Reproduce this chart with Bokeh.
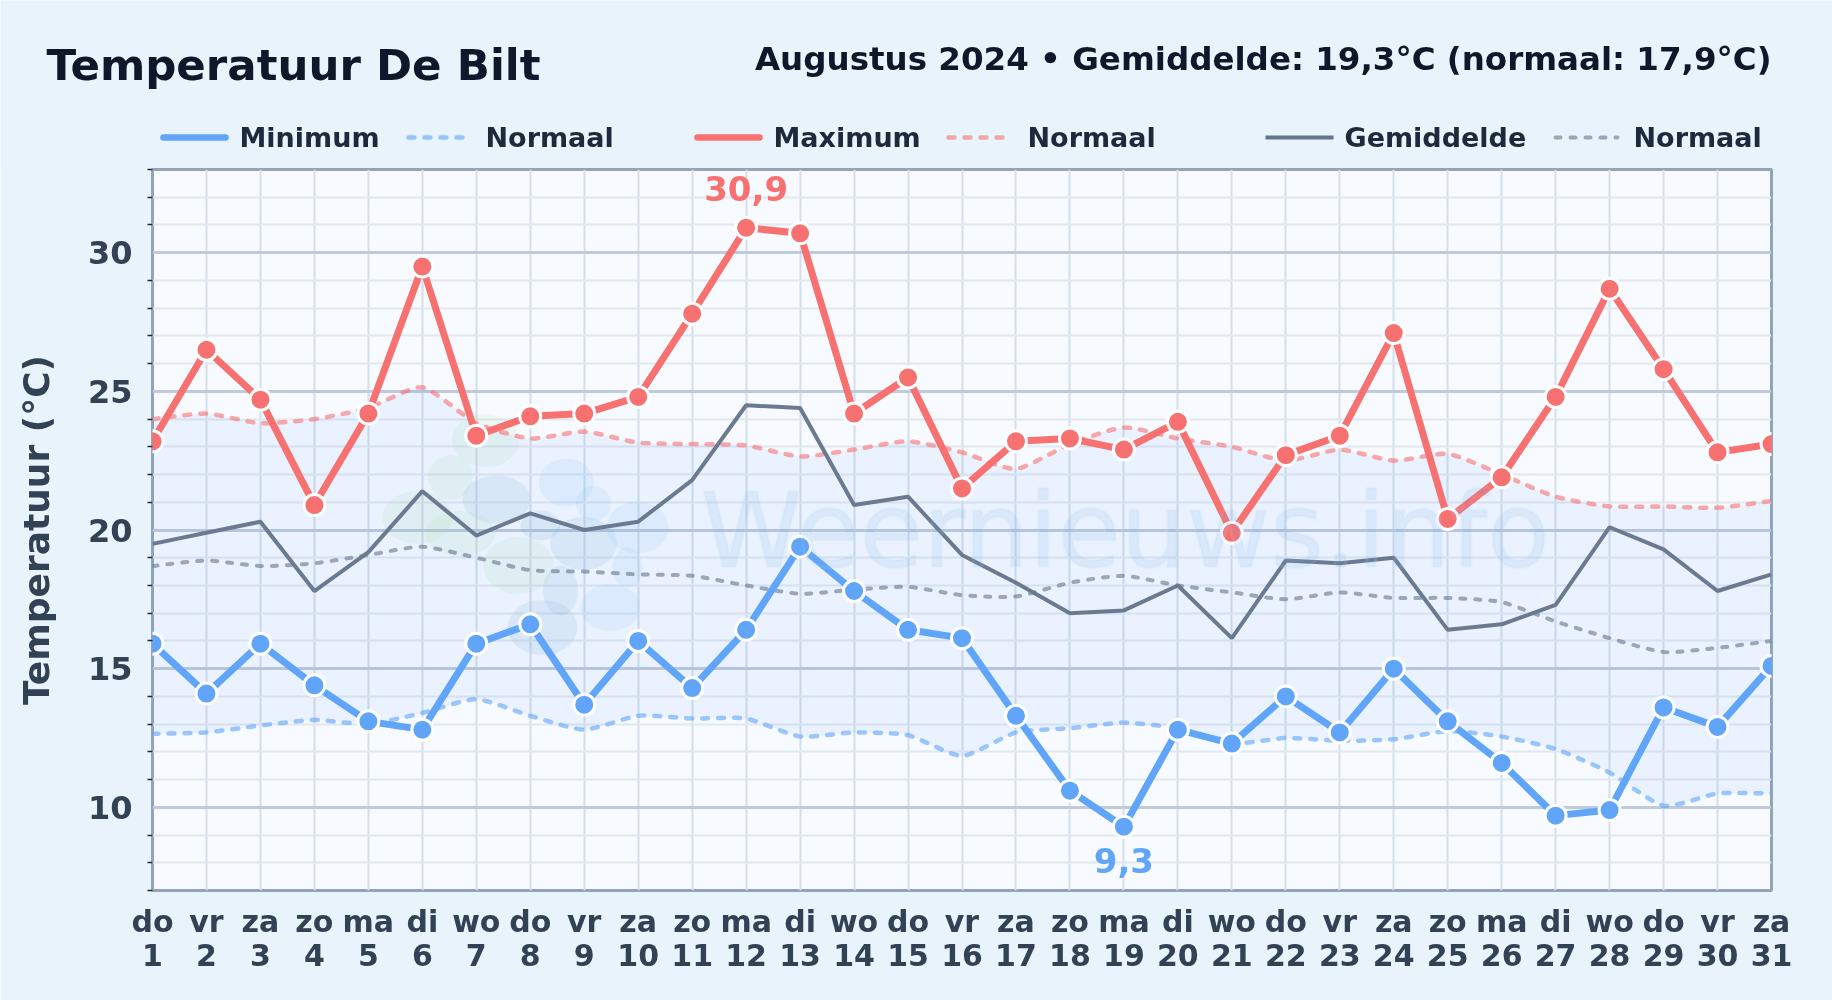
from bokeh.plotting import figure
from bokeh.models import Range1d, FixedTicker, LinearAxis, Label
from bokeh.core.properties import value
from bokeh.embed import file_html
from bokeh.resources import INLINE

days = list(range(1, 32))
weekdays = ["do","vr","za","zo","ma","di","wo","do","vr","za","zo","ma","di","wo","do","vr","za","zo","ma","di","wo","do","vr","za","zo","ma","di","wo","do","vr","za"]
t_max = [23.2,26.5,24.7,20.9,24.2,29.5,23.4,24.1,24.2,24.8,27.8,30.9,30.7,24.2,25.5,21.5,23.2,23.3,22.9,23.9,19.9,22.7,23.4,27.1,20.4,21.9,24.8,28.7,25.8,22.8,23.1]
t_min = [15.9,14.1,15.9,14.4,13.1,12.8,15.9,16.6,13.7,16.0,14.3,16.4,19.4,17.8,16.4,16.1,13.3,10.6,9.3,12.8,12.3,14.0,12.7,15.0,13.1,11.6,9.7,9.9,13.6,12.9,15.1]
t_mean = [19.5,19.9,20.3,17.8,19.2,21.4,19.8,20.6,20.0,20.3,21.8,24.5,24.4,20.9,21.2,19.1,18.1,17.0,17.1,18.0,16.1,18.9,18.8,19.0,16.4,16.6,17.3,20.1,19.3,17.8,18.4]
n_max = [24.0,24.2,23.85,24.0,24.4,25.15,23.85,23.3,23.55,23.15,23.1,23.05,22.65,22.9,23.2,22.8,22.2,23.1,23.7,23.3,23.0,22.5,22.9,22.5,22.75,22.0,21.2,20.85,20.85,20.8,21.05]
n_min = [12.65,12.7,12.95,13.15,13.0,13.4,13.9,13.3,12.8,13.3,13.2,13.2,12.55,12.7,12.6,11.85,12.7,12.85,13.05,12.85,12.3,12.5,12.4,12.45,12.75,12.55,12.1,11.25,10.05,10.5,10.5]
n_mean = [18.7,18.9,18.7,18.8,19.1,19.4,19.0,18.55,18.5,18.4,18.35,18.0,17.7,17.85,17.95,17.65,17.6,18.1,18.35,18.0,17.75,17.5,17.75,17.55,17.55,17.4,16.7,16.1,15.6,15.75,16.0]
y_ticks = [10, 15, 20, 25, 30]
y_minor = [7,8,9,11,12,13,14,16,17,18,19,21,22,23,24,26,27,28,29,31,32,33]

L, R, T, B = 152, 1771, 169, 890
HEAD = 163
def dx(px): return 1 + (px - L) / (R - L) * 30
def dy(py): return 33 - (py - T) / (B - T) * 26
def dw(px): return px / (R - L) * 30
def dh(px): return px / (B - T) * 26

def smooth(xs, ys, tension=0.1, steps=8):
    """Rendering only: curve through the series' own points, as the reference's line tension does."""
    ox, oy = [], []
    n = len(xs)
    for i in range(n - 1):
        p0 = max(i - 1, 0); p3 = min(i + 2, n - 1)
        c1x = xs[i] + (xs[i + 1] - xs[p0]) * tension
        c1y = ys[i] + (ys[i + 1] - ys[p0]) * tension
        c2x = xs[i + 1] - (xs[p3] - xs[i]) * tension
        c2y = ys[i + 1] - (ys[p3] - ys[i]) * tension
        for k in range(steps):
            t = k / steps; u = 1 - t
            ox.append(u**3 * xs[i] + 3*u*u*t * c1x + 3*u*t*t * c2x + t**3 * xs[i + 1])
            oy.append(u**3 * ys[i] + 3*u*u*t * c1y + 3*u*t*t * c2y + t**3 * ys[i + 1])
    ox.append(xs[-1]); oy.append(ys[-1])
    return ox, oy

PAGE = "#e9f3fc"
FONT = "DejaVu Sans"

# ---------- header ----------
h = figure(width=1832, height=HEAD + 2, output_backend="svg", toolbar_location=None,
           x_range=Range1d(0, 1832), y_range=Range1d(HEAD + 2, 0),
           min_border=0, border_fill_color=PAGE, background_fill_color=PAGE,
           outline_line_color=None, x_axis_type=None, y_axis_type=None,
           styles={"position": "fixed", "left": "0", "top": "0"})
h.grid.visible = False
h.text(x=[46], y=[64], text=["Temperatuur De Bilt"], text_baseline="alphabetic",
       text_font=value(FONT), text_font_style="bold", text_font_size="43.5px", text_color="#0f172a")
h.text(x=[1771], y=[58.5], text=["Augustus 2024 • Gemiddelde: 19,3°C (normaal: 17,9°C)"], text_baseline="alphabetic",
       text_align="right", text_font=value(FONT), text_font_style="bold", text_font_size="32.5px", text_color="#0f172a")

C_MIN, C_MAX, C_MEAN = "#60a5fa", "#f87171", "#64748b"
DASH, DASH3 = "6 10", "5 10"
LEG_Y = 137
legend = [
    ("Minimum", 163, 225, 239, C_MIN, 1.0, 6.5, "solid", "round"),
    ("Normaal", 408, 462, 485, C_MIN, 0.6, 4.5, DASH, "round"),
    ("Maximum", 697, 759, 773, C_MAX, 1.0, 6.5, "solid", "round"),
    ("Normaal", 948, 1005, 1027, C_MAX, 0.6, 4.5, DASH, "round"),
    ("Gemiddelde", 1265, 1333, 1344, C_MEAN, 1.0, 4, "solid", "butt"),
    ("Normaal", 1555, 1617, 1633, C_MEAN, 0.6, 4, DASH3, "round"),
]
for lab, x0, x1, xt_, col, al, lw, dash, cap in legend:
    h.line([x0, x1], [LEG_Y, LEG_Y], line_color=col, line_alpha=al, line_width=lw, line_dash=dash, line_cap=cap)
    h.text(x=[xt_], y=[LEG_Y], text=[lab], text_baseline="middle", text_font=value(FONT),
           text_font_style="bold", text_font_size="27px", text_color="#1e293b")

# ---------- chart ----------
p = figure(width=1832, height=1000 - HEAD, output_backend="svg", toolbar_location=None,
           x_range=Range1d(1, 31), y_range=Range1d(7, 33),
           frame_width=R - L, frame_height=B - T,
           min_border_left=L, min_border_right=1832 - R, min_border_top=T - HEAD, min_border_bottom=1000 - B,
           border_fill_color=PAGE, background_fill_color="#f7fbff",
           outline_line_color="#94a3b8", outline_line_width=3,
           styles={"position": "fixed", "left": "0", "top": f"{HEAD}px"})

xt = FixedTicker(ticks=days)
yt = FixedTicker(ticks=y_ticks, minor_ticks=y_minor)
xa = p.xaxis[0]; ya = p.yaxis[0]
xa2 = LinearAxis()
p.add_layout(xa2, "below")
xa.ticker = xt; xa2.ticker = xt; ya.ticker = yt
xa.major_label_overrides = {d: w for d, w in zip(days, weekdays)}
xa2.major_label_overrides = {d: str(d) for d in days}
for a, size in ((xa, "30px"), (xa2, "30px"), (ya, "32px")):
    a.axis_line_color = None
    a.major_label_text_font = FONT
    a.major_label_text_font_style = "bold"
    a.major_label_text_font_size = size
    a.major_label_text_color = "#334155"
for a in (xa, xa2):
    a.major_tick_line_color = None; a.minor_tick_line_color = None
    a.major_tick_out = 0; a.major_tick_in = 0; a.minor_tick_out = 0; a.minor_tick_in = 0
xa.major_label_standoff = 13
xa2.major_label_standoff = 2
ya.major_tick_line_color = None
ya.minor_tick_line_color = "#1e293b"; ya.minor_tick_line_width = 1.5
ya.minor_tick_out = 5; ya.minor_tick_in = 0
ya.major_tick_out = 5; ya.major_tick_in = 0
ya.major_label_standoff = 15
ya.axis_label = "Temperatuur (°C)"
ya.axis_label_text_font = FONT
ya.axis_label_text_font_style = "bold"
ya.axis_label_text_font_size = "36px"
ya.axis_label_text_color = "#334155"
ya.axis_label_standoff = 28

xg = p.xgrid[0]; yg = p.ygrid[0]
xg.ticker = xt; yg.ticker = yt
xg.grid_line_color = "#d6deea"; xg.grid_line_width = 2
yg.grid_line_color = "#bfcbdd"; yg.grid_line_width = 3
yg.minor_grid_line_color = "#e2e8f0"; yg.minor_grid_line_width = 2

# normal band
bx, by1 = smooth(days, n_min)
_, by2 = smooth(days, n_max)
p.varea(x=bx, y1=by1, y2=by2, fill_color="#3b82f6", fill_alpha=0.07)

# watermark logo (decoration)
green = [(485,440,67,53),(417,517,70,53),(518,565,70,57),(450,477,45,45),(460,533,70,45)]
gray = [(496,499,68,48),(583,543,67,53),(542,627,70,55),(540,525,40,30),(560,590,35,50)]
light = [(566,482,55,48),(637,527,62,52),(610,607,60,47),(593,503,35,35),(627,567,30,40)]
for blobs, col, al in ((green, "#a5d6a0", 0.13), (gray, "#6f9fd0", 0.13), (light, "#7cc0f5", 0.12)):
    p.ellipse(x=[dx(b[0]) for b in blobs], y=[dy(b[1]) for b in blobs],
              width=[dw(b[2]) for b in blobs], height=[dh(b[3]) for b in blobs],
              fill_color=col, fill_alpha=al, line_color=None)
p.add_layout(Label(x=dx(700), y=dy(530), text="Weernieuws.info", text_baseline="alphabetic",
                   text_font=FONT, text_font_size="103px", text_color="#6aa5e0", text_alpha=0.12,
                   text_outline_color="#c9def4", level="glyph"))

# lines
for ys, col, lw, dash in ((n_min, C_MIN, 4.5, DASH), (n_max, C_MAX, 4.5, DASH), (n_mean, C_MEAN, 4, DASH3)):
    sx, sy = smooth(days, ys)
    p.line(sx, sy, line_color=col, line_alpha=0.6, line_width=lw, line_dash=dash, line_cap="round")
p.line(days, t_mean, line_color="#6b7a90", line_width=4)
p.line(days, t_min, line_color=C_MIN, line_width=7, line_cap="round", line_join="round")
p.line(days, t_max, line_color=C_MAX, line_width=7, line_cap="round", line_join="round")
p.scatter(days, t_min, size=21, fill_color=C_MIN, line_color="white", line_width=3)
p.scatter(days, t_max, size=21, fill_color=C_MAX, line_color="white", line_width=3)

# extreme labels
i_hi = t_max.index(max(t_max)); i_lo = t_min.index(min(t_min))
p.text(x=[days[i_hi]], y=[t_max[i_hi]], text=["30,9"], y_offset=-39, text_align="center", text_baseline="middle",
       text_font=value(FONT), text_font_style="bold", text_font_size="34px", text_color=C_MAX)
p.text(x=[days[i_lo]], y=[t_min[i_lo]], text=["9,3"], y_offset=34, text_align="center", text_baseline="middle",
       text_font=value(FONT), text_font_style="bold", text_font_size="34px", text_color=C_MIN)

open("out.html", "w").write(file_html([h, p], INLINE))
